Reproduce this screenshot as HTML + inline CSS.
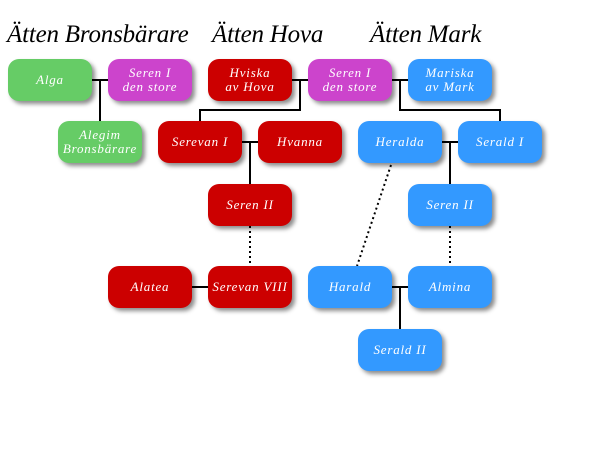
<!DOCTYPE html>
<html><head><meta charset="utf-8"><style>
html,body{margin:0;padding:0;background:#fff;width:600px;height:450px;overflow:hidden}
.wrap{position:relative;width:600px;height:450px}
.b{position:absolute;width:84px;height:42px;border-radius:11px;color:#fff;font-family:"Liberation Serif",serif;font-style:italic;font-size:13px;letter-spacing:0.8px;line-height:14px;display:flex;align-items:center;justify-content:center;text-align:center;box-shadow:3px 3px 4px rgba(0,0,0,0.45)}
.g{background:#66cc66}.p{background:#cc44cc}.r{background:#cc0000}.u{background:#3399ff}
.t{position:absolute;top:21px;font-family:"Liberation Serif",serif;font-style:italic;font-size:25px;letter-spacing:-0.2px;color:#000}
svg{position:absolute;left:0;top:0}
</style></head><body><div class="wrap">
<div class="t" style="left:7px">Ätten Bronsbärare</div>
<div class="t" style="left:212px">Ätten Hova</div>
<div class="t" style="left:370px">Ätten Mark</div>
<svg width="600" height="450" stroke="#000" stroke-width="2" fill="none">
<path d="M92 80H108M100 80V121"/>
<path d="M292 80H308M300 80V110H200V121"/>
<path d="M392 80H408M400 80V110H500V121"/>
<path d="M242 142H258M250 142V184"/>
<path d="M442 142H458M450 142V184"/>
<path d="M192 287H208"/>
<path d="M392 287H408M400 287V329"/>
<path d="M250 226V266M450 226V266M391 165L357 266" stroke-dasharray="2 3"/>
</svg>
<div class="b g" style="left:8px;top:59px">Alga</div>
<div class="b p" style="left:108px;top:59px">Seren I<br>den store</div>
<div class="b g" style="left:58px;top:121px">Alegim<br>Bronsbärare</div>
<div class="b r" style="left:208px;top:59px">Hviska<br>av Hova</div>
<div class="b p" style="left:308px;top:59px">Seren I<br>den store</div>
<div class="b u" style="left:408px;top:59px">Mariska<br>av Mark</div>
<div class="b r" style="left:158px;top:121px">Serevan I</div>
<div class="b r" style="left:258px;top:121px">Hvanna</div>
<div class="b u" style="left:358px;top:121px">Heralda</div>
<div class="b u" style="left:458px;top:121px">Serald I</div>
<div class="b r" style="left:208px;top:184px">Seren II</div>
<div class="b u" style="left:408px;top:184px">Seren II</div>
<div class="b r" style="left:108px;top:266px">Alatea</div>
<div class="b r" style="left:208px;top:266px">Serevan VIII</div>
<div class="b u" style="left:308px;top:266px">Harald</div>
<div class="b u" style="left:408px;top:266px">Almina</div>
<div class="b u" style="left:358px;top:329px">Serald II</div>
</div></body></html>
